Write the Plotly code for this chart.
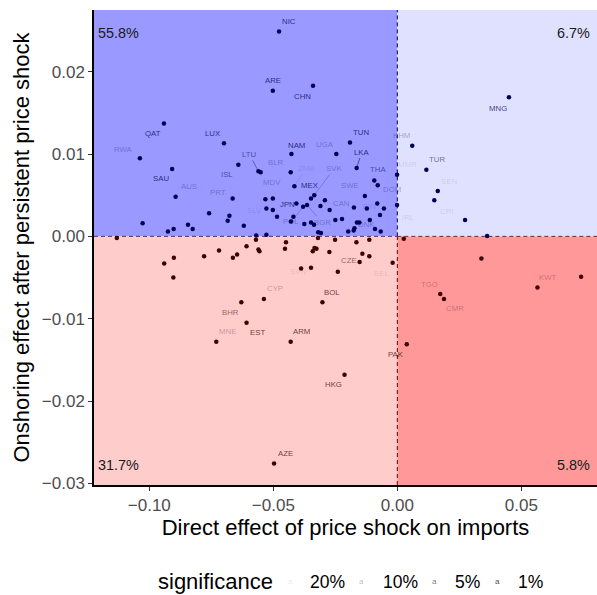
import plotly.graph_objects as go

# ---------------- data ----------------
x_vals = [
    -0.0477, -0.0502, -0.0340, -0.0941, -0.0699, -0.0191, -0.1038, -0.0427, -0.0246, -0.0641,
    -0.0908, -0.0560, -0.0551, -0.0430, -0.0164, -0.0001, -0.0093, -0.0079, -0.0415, -0.0894,
    -0.0664, -0.0532, -0.0502, -0.0335, -0.0348, -0.0292, -0.0131, -0.0407, -0.0364, -0.0380,
    -0.0310, -0.0528, -0.0502, -0.0273, -0.0175, -0.0123, -0.0081, -0.0054, -0.0001, -0.0759,
    -0.0677, -0.0684, -0.0485, -0.0419, -0.0429, -0.0070, -0.0250, -0.0223, -0.0111, -0.0163,
    -0.0153, -0.1027, -0.0844, -0.0825, -0.0619, -0.0375, -0.0348, -0.0336, -0.0902, -0.0925,
    -0.0173, -0.0176, -0.0198, -0.0090, -0.0067, -0.0319, -0.0308, -0.0528, -0.0569,
    0.0450, 0.0060, 0.0117, 0.0163, 0.0149, 0.0273, 0.0362,
    -0.1131, -0.0570, -0.0449, -0.0320, -0.0251, -0.0165, -0.0113, -0.0608, -0.0560, -0.0556,
    -0.0453, -0.0334, -0.0326, -0.0341, -0.0274, -0.0719, -0.0779, -0.0901, -0.0663, -0.0646,
    -0.0141, -0.0113, -0.0940, -0.0903, -0.0152, -0.0019, -0.0388, -0.0348, -0.0240, -0.0538,
    -0.0629, -0.0302, -0.0608, -0.0730, -0.0430, -0.0213, -0.0497,
    0.0026, 0.0339, 0.0173, 0.0188, 0.0565, 0.0741, 0.0038,
]
y_vals = [
    0.0249, 0.0177, 0.0183, 0.0137, 0.0113, 0.0114, 0.0095, 0.0100, 0.0100, 0.0087,
    0.0082, 0.0079, 0.0078, 0.0078, 0.0083, 0.0075, 0.0068, 0.0062, 0.0061, 0.0048,
    0.0046, 0.0045, 0.0046, 0.0050, 0.0046, 0.0044, 0.0049, 0.0040, 0.0038, 0.0036,
    0.0037, 0.0034, 0.0032, 0.0032, 0.0035, 0.0034, 0.0040, 0.0034, 0.0038, 0.0028,
    0.0025, 0.0019, 0.0024, 0.0024, 0.0018, 0.0026, 0.0020, 0.0021, 0.0020, 0.0017,
    0.0017, 0.0016, 0.0014, 0.0009, 0.0013, 0.0015, 0.0017, 0.0014, 0.0009, 0.0006,
    0.0010, 0.0007, 0.0006, 0.0009, 0.0006, 0.0005, 0.0004, 0.0002, 0.0001,
    0.0169, 0.0110, 0.0081, 0.0055, 0.0044, 0.0020, 0.00005,
    -0.0002, -0.0004, -0.0007, -0.0002, -0.0004, -0.0007, -0.0004, -0.0012, -0.0016, -0.0018,
    -0.0015, -0.0014, -0.0015, -0.0018, -0.0019, -0.0017, -0.0024, -0.0026, -0.0026, -0.0022,
    -0.0021, -0.0024, -0.0033, -0.0050, -0.0031, -0.0032, -0.0039, -0.0038, -0.0043, -0.0076,
    -0.0080, -0.0080, -0.0105, -0.0128, -0.0128, -0.0168, -0.0276,
    -0.0003, -0.0027, -0.0070, -0.0076, -0.0062, -0.0049, -0.0131,
]
codes = [
    "NIC", "ARE", "CHN", "QAT", "LUX", "TUN", "RWA", "NAM", "UGA", "ISL",
    "SAU", "LTU", "", "BLR", "LKA", "MMR", "THA", "", "ZMB", "AUS",
    "PRT", "", "MDV", "SVK", "MEX", "", "SWE", "JPN", "BGR", "POL",
    "", "SLV", "", "CAN", "FIN", "", "", "DOM", "IRL", "",
    "", "", "", "", "", "DNK", "", "", "", "",
    "", "", "", "", "", "", "", "", "", "",
    "", "", "", "", "", "", "", "", "",
    "MNG", "KHM", "TUR", "SEN", "", "CRI", "",
    "", "", "", "", "", "", "", "", "", "",
    "", "", "", "", "", "", "", "", "", "",
    "", "", "", "", "CZE", "BEL", "", "SVN", "", "CYP",
    "BHR", "BOL", "EST", "MNE", "ARM", "HKG", "AZE",
    "", "", "TGO", "CMR", "KWT", "", "PAK",
]
significance = {
    "NIC": "1%", "ARE": "1%", "CHN": "1%", "QAT": "1%", "LUX": "1%", "TUN": "1%",
    "RWA": "10%", "NAM": "1%", "UGA": "10%", "ISL": "5%", "SAU": "1%", "LTU": "5%",
    "BLR": "10%", "LKA": "1%", "MMR": "20%", "THA": "5%", "ZMB": "20%", "AUS": "10%",
    "PRT": "10%", "MDV": "10%", "SVK": "10%", "MEX": "1%", "SWE": "10%", "JPN": "1%",
    "BGR": "10%", "POL": "10%", "SLV": "20%", "CAN": "10%", "FIN": "20%", "DOM": "10%",
    "IRL": "20%", "DNK": "10%", "MNG": "1%", "KHM": "10%", "TUR": "5%", "SEN": "20%",
    "CRI": "20%", "CZE": "5%", "BEL": "20%", "SVN": "20%", "CYP": "10%", "BHR": "5%",
    "BOL": "1%", "EST": "1%", "MNE": "10%", "ARM": "1%", "HKG": "1%", "AZE": "1%",
    "TGO": "10%", "CMR": "10%", "KWT": "10%", "PAK": "1%",
}
sig_levels = ["20%", "10%", "5%", "1%"]
quadrant_labels = ["55.8%", "6.7%", "31.7%", "5.8%"]

# ---------------- styling ----------------
sig_alpha = {"20%": 0.12, "10%": 0.3, "5%": 0.55, "1%": 0.75}
label_offsets = {  # pixel offsets (dx right, dy down) of label centre from point
    "NIC": (10, -10), "ARE": (0, -10), "CHN": (-11, 11), "QAT": (-11, 10), "LUX": (-11, -10),
    "TUN": (11, -10), "RWA": (-16, -9), "NAM": (5, -9), "UGA": (-11, -10), "ISL": (-11, 10),
    "SAU": (-11, 10), "LTU": (-9, -17), "BLR": (-15, -10), "LKA": (5, -16), "MMR": (10, -10),
    "THA": (4, -11), "ZMB": (12, -18), "AUS": (13, -10), "PRT": (-15, -6), "MDV": (-1, -16),
    "SVK": (20, -27), "MEX": (-1, -13), "SWE": (-15, -11), "JPN": (-9, 1), "BGR": (15, 17),
    "POL": (-12, 15), "SLV": (-12, 2), "CAN": (11, -7), "FIN": (16, -1), "DOM": (8, -19),
    "IRL": (11, 12), "DNK": (-13, 10), "MNG": (-11, 11), "KHM": (-11, -10), "TUR": (11, -10),
    "SEN": (11, -10), "CRI": (-19, -8), "CZE": (-11, -1), "BEL": (-11, 11), "SVN": (-13, 4),
    "CYP": (11, -10), "BHR": (-11, 10), "BOL": (10, -10), "EST": (11, 10), "MNE": (11, -10),
    "ARM": (11, -10), "HKG": (-11, 10), "AZE": (11, -10), "TGO": (-11, -10), "CMR": (11, 10),
    "KWT": (11, -10), "PAK": (-11, 10),
}
segment_labels = {"LTU", "LKA", "ZMB", "SVK", "BGR", "POL"}

X_RANGE = [-0.1223, 0.0805]
Y_RANGE = [-0.0302, 0.0275]
FONT = "Liberation Sans, Arial, sans-serif"
BLUE_PT = (0, 0, 85)
RED_PT = (64, 0, 0)
DASH = "4px,3px"

def rgba(c, a):
    return f"rgba({c[0]},{c[1]},{c[2]},{a})"

fig = go.Figure()

# quadrant backgrounds
quads = [
    (X_RANGE[0], 0, 0, Y_RANGE[1], "#9999FF"),
    (0, X_RANGE[1], 0, Y_RANGE[1], "#E0E0FF"),
    (X_RANGE[0], 0, Y_RANGE[0], 0, "#FFCCCC"),
    (0, X_RANGE[1], Y_RANGE[0], 0, "#FF9999"),
]
for x0, x1, y0, y1, col in quads:
    fig.add_shape(type="rect", xref="x", yref="y", x0=x0, x1=x1, y0=y0, y1=y1,
                  fillcolor=col, line=dict(width=0), layer="below")

# dashed reference lines
fig.add_shape(type="line", xref="x", yref="y", x0=0, x1=0, y0=0, y1=Y_RANGE[1],
              line=dict(color="#000066", width=1, dash=DASH), layer="below")
fig.add_shape(type="line", xref="x", yref="y", x0=0, x1=0, y0=Y_RANGE[0], y1=0,
              line=dict(color="#660000", width=1, dash=DASH), layer="below")
fig.add_shape(type="line", xref="x", yref="y", x0=X_RANGE[0], x1=0, y0=0, y1=0,
              line=dict(color="#553366", width=1, dash=DASH), layer="below")
fig.add_shape(type="line", xref="x", yref="y", x0=0, x1=X_RANGE[1], y0=0, y1=0,
              line=dict(color="#772233", width=1, dash=DASH), layer="below")

pt_colors = [rgba(BLUE_PT if y > 0 else RED_PT, 1) for y in y_vals]
fig.add_trace(go.Scatter(
    x=x_vals, y=y_vals, mode="markers",
    marker=dict(size=4.5, color=pt_colors, line=dict(width=0)),
    showlegend=False, hoverinfo="skip",
))

annotations = []
for x, y, c in zip(x_vals, y_vals, codes):
    if not c:
        continue
    base = BLUE_PT if y > 0 else RED_PT
    col = rgba(base, sig_alpha[significance[c]])
    dx, dy = label_offsets[c]
    if c in segment_labels:
        annotations.append(dict(
            x=x, y=y, xref="x", yref="y", text=c, showarrow=True,
            ax=dx, ay=dy, arrowhead=0, arrowwidth=0.7, arrowcolor=col, standoff=2,
            font=dict(size=7.8, color=col, family=FONT),
        ))
    else:
        annotations.append(dict(
            x=x, y=y, xref="x", yref="y", text=c, showarrow=False,
            xshift=dx, yshift=-dy,
            font=dict(size=7.8, color=col, family=FONT),
        ))

# quadrant share labels
corner = [(0.004, 0.952, "left"), (0.990, 0.952, "right"),
          (0.004, 0.043, "left"), (0.990, 0.043, "right")]
for (px, py, anc), txt in zip(corner, quadrant_labels):
    annotations.append(dict(x=px, y=py, xref="paper", yref="paper", text=txt,
                            showarrow=False, xanchor=anc, yanchor="middle",
                            font=dict(size=14.4, color="#1A1A1A", family=FONT)))

# legend (significance)
LEG_Y = -0.2034
annotations.append(dict(x=0.1233, y=LEG_Y, xref="paper", yref="paper", text="significance",
                        showarrow=False, xanchor="left", yanchor="middle",
                        font=dict(size=22, color="black", family=FONT)))
key_x = [0.3897, 0.5328, 0.676, 0.8012]
lab_x = [0.4254, 0.5706, 0.7137, 0.839]
for kx, lx, lev in zip(key_x, lab_x, sig_levels):
    annotations.append(dict(x=kx, y=LEG_Y, xref="paper", yref="paper", text="a",
                            showarrow=False, xanchor="center", yanchor="middle",
                            font=dict(size=8, color=rgba((0, 0, 0), sig_alpha[lev]), family=FONT)))
    annotations.append(dict(x=lx, y=LEG_Y, xref="paper", yref="paper", text=lev,
                            showarrow=False, xanchor="left", yanchor="middle",
                            font=dict(size=17.5, color="black", family=FONT)))

axis_common = dict(
    showgrid=False, zeroline=False, showline=True, linecolor="black", linewidth=1.5,
    ticks="outside", ticklen=4, tickwidth=1, tickcolor="#333333",
    tickfont=dict(size=17, color="#4D4D4D", family=FONT), mirror=False,
)
fig.update_layout(
    width=597, height=595,
    margin=dict(l=94, r=0, t=10, b=110),
    paper_bgcolor="white", plot_bgcolor="white",
    font=dict(family=FONT),
    xaxis=dict(range=X_RANGE, tickvals=[-0.10, -0.05, 0.00, 0.05], tickformat=".2f",
               title=dict(text="Direct effect of price shock on imports",
                          font=dict(size=22, color="black", family=FONT), standoff=4),
               **axis_common),
    yaxis=dict(range=Y_RANGE, tickvals=[-0.03, -0.02, -0.01, 0.00, 0.01, 0.02], tickformat=".2f",
               title=dict(text="Onshoring effect after persistent price shock",
                          font=dict(size=22, color="black", family=FONT), standoff=6),
               **axis_common),
    annotations=annotations,
    showlegend=False,
)

fig.write_html("out.html", config={"displayModeBar": False},
               post_script="document.body.style.margin='0px';document.body.style.overflow='hidden';")
